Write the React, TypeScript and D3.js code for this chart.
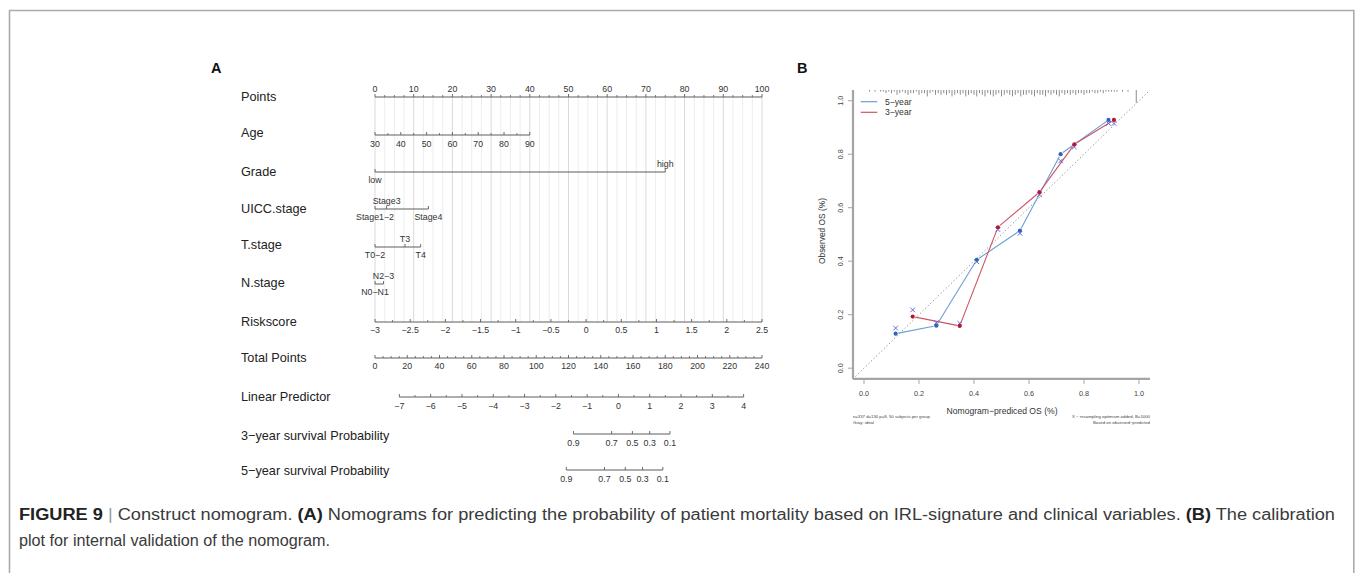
import React from 'react';
import * as d3 from 'd3';

// ---------- Panel A: nomogram ----------
const pointTicks = [0, 10, 20, 30, 40, 50, 60, 70, 80, 90, 100];
const ageTicks = [30, 40, 50, 60, 70, 80, 90];
const ageDomain = [30, 90];
const agePointsMax = 40;
const gradeLevels = [
  { label: 'low', points: 0, side: 1 },
  { label: 'high', points: 75, side: -1 },
];
const uiccLevels = [
  { label: 'Stage1\u22122', points: 0, side: 1 },
  { label: 'Stage3', points: 3, side: -1 },
  { label: 'Stage4', points: 13.8, side: 1 },
];
const tLevels = [
  { label: 'T0\u22122', points: 0, side: 1 },
  { label: 'T3', points: 7.75, side: -1 },
  { label: 'T4', points: 11.8, side: 1 },
];
const nLevels = [
  { label: 'N0\u2212N1', points: 0, side: 1 },
  { label: 'N2\u22123', points: 2.2, side: -1 },
];
const riskTicks = [-3, -2.5, -2, -1.5, -1, -0.5, 0, 0.5, 1, 1.5, 2, 2.5];
const riskDomain = [-3, 2.5];
const totalTicks = [0, 20, 40, 60, 80, 100, 120, 140, 160, 180, 200, 220, 240];
const lpTicks = [-7, -6, -5, -4, -3, -2, -1, 0, 1, 2, 3, 4];
// total points reached at the ends of the linear predictor axis
const lpTotalAtEnds = [15.1, 228.6];
const survTicks = [0.9, 0.7, 0.5, 0.3, 0.1];
// log(-log S(t)) = LP + offset
const surv3Offset = -0.813;
const surv5Offset = -0.585;

const rowLabels = [
  'Points', 'Age', 'Grade', 'UICC.stage', 'T.stage', 'N.stage', 'Riskscore',
  'Total Points', 'Linear Predictor', '3\u2212year survival Probability', '5\u2212year survival Probability',
];

// ---------- Panel B: calibration ----------
const pred5 = [0.115, 0.263, 0.41, 0.567, 0.715, 0.889];
const obs5 = [0.129, 0.159, 0.405, 0.514, 0.8, 0.928];
const corr5 = [0.15, 0.17, 0.398, 0.504, 0.775, 0.915];
const pred3 = [0.177, 0.348, 0.487, 0.638, 0.765, 0.909];
const obs3 = [0.193, 0.158, 0.527, 0.658, 0.837, 0.928];
const corr3 = [0.218, 0.168, 0.518, 0.648, 0.827, 0.915];
const calTicks = [0, 0.2, 0.4, 0.6, 0.8, 1.0];
// distribution of predicted values, counts per 0.01 bin starting at 0
const rugCounts = [
  0, 0, 1, 0, 1, 0, 1, 1, 2, 1,
  2, 1, 3, 2, 1, 2, 3, 2, 2, 1,
  3, 2, 2, 4, 2, 1, 3, 2, 3, 2,
  3, 2, 4, 3, 2, 3, 2, 4, 3, 2,
  3, 4, 2, 3, 4, 2, 3, 4, 3, 2,
  4, 3, 2, 3, 4, 3, 2, 4, 3, 3,
  2, 3, 4, 2, 3, 3, 4, 2, 3, 2,
  3, 4, 2, 3, 2, 3, 2, 3, 2, 2,
  3, 2, 2, 1, 2, 2, 1, 2, 1, 1,
  1, 1, 1, 0, 1, 0, 1, 0, 0, 8,
];

const FONT = "'Liberation Sans', Arial, Helvetica, sans-serif";
const AXC = '#5c5c5c';
const TXT = '#333';

const fmt = (v: number) => String(v).replace('-', '\u2212');

export default function App() {
  // nomogram scales
  const xPts = d3.scaleLinear().domain([0, 100]).range([375, 762]);
  const xTot = d3.scaleLinear().domain([0, 240]).range([375, 762]);
  const agePts = d3.scaleLinear().domain(ageDomain).range([0, agePointsMax]);
  const riskPts = d3.scaleLinear().domain(riskDomain).range([0, 100]);
  const lpTot = d3.scaleLinear().domain([-7, 4]).range(lpTotalAtEnds);
  const survX = (p: number, offset: number) => xTot(lpTot(Math.log(-Math.log(p)) - offset));

  const rowY = [97, 135, 172, 209, 247, 284, 322, 358, 397, 434, 470];
  const labelY = [97, 133, 172, 209, 245, 283, 322, 358, 397, 436, 471];

  const axis = (
    key: string, y: number, major: { x: number; label: string }[], minor: number[], side: number, off = 8.3,
  ) => {
    const xs = major.map((m) => m.x).concat(minor);
    return (
      <g key={key}>
        <line x1={d3.min(xs)} x2={d3.max(xs)} y1={y} y2={y} stroke={AXC} strokeWidth={1} />
        {minor.map((x, i) => (
          <line key={'m' + i} x1={x} x2={x} y1={y} y2={y - 2} stroke={AXC} strokeWidth={0.8} />
        ))}
        {major.map((m, i) => (
          <g key={'M' + i}>
            <line x1={m.x} x2={m.x} y1={y} y2={y - 3} stroke={AXC} strokeWidth={0.9} />
            <text x={m.x} y={y + side * off} fontSize={8.8} textAnchor="middle" dominantBaseline="central" fill={TXT}>
              {m.label}
            </text>
          </g>
        ))}
      </g>
    );
  };

  const catAxis = (key: string, y: number, levels: { label: string; points: number; side: number }[]) => {
    const xs = levels.map((l) => xPts(l.points));
    return (
      <g key={key}>
        <line x1={d3.min(xs)} x2={d3.max(xs)} y1={y} y2={y} stroke={AXC} strokeWidth={1} />
        {levels.map((l, i) => (
          <g key={i}>
            <line x1={xPts(l.points)} x2={xPts(l.points)} y1={y} y2={y - 3} stroke={AXC} strokeWidth={0.9} />
            <text x={xPts(l.points)} y={y + l.side * 8.3} fontSize={8.8} textAnchor="middle" dominantBaseline="central" fill={TXT}>
              {l.label}
            </text>
          </g>
        ))}
      </g>
    );
  };

  const gridVals = d3.range(0, 100.001, 2.5);

  // calibration scales
  const xCal = d3.scaleLinear().domain([-0.04, 1.04]).range([853, 1150]);
  const yCal = d3.scaleLinear().domain([-0.04, 1.04]).range([378.9, 90]);

  // observed series drawn R "type = b" style: segments stop short of each point
  const gappedSegments = (px: number[], py: number[], gap: number) => {
    const segs: string[] = [];
    for (let i = 0; i < px.length - 1; i++) {
      const x0 = xCal(px[i]), y0 = yCal(py[i]);
      const x1 = xCal(px[i + 1]), y1 = yCal(py[i + 1]);
      const L = Math.hypot(x1 - x0, y1 - y0);
      if (L <= 2 * gap) continue;
      const ux = (x1 - x0) / L, uy = (y1 - y0) / L;
      segs.push(`M${x0 + ux * gap},${y0 + uy * gap}L${x1 - ux * gap},${y1 - uy * gap}`);
    }
    return segs.join('');
  };

  const BLUE_L = '#6a9fd2';
  const BLUE_P = '#2c67b3';
  const RED_L = '#cf5466';
  const RED_P = '#b4182e';
  const XCOL = '#5a58e0';

  const xMark = (cx: number, cy: number, k: string) => (
    <path key={k} d={`M${cx - 2.3},${cy - 2.3}L${cx + 2.3},${cy + 2.3}M${cx - 2.3},${cy + 2.3}L${cx + 2.3},${cy - 2.3}`} stroke={XCOL} strokeWidth={0.9} />
  );

  return (
    <svg width={1355} height={573} style={{ position: 'absolute', left: 0, top: 0, background: '#fff' }} fontFamily={FONT}>
      <rect x={0} y={0} width={1355} height={573} fill="#fff" />
      {/* figure frame */}
      <path d="M9.5,600V10.5H1353.8V600" fill="none" stroke="#ababab" strokeWidth={1.6} />

      {/* ===== Panel A ===== */}
      <text x={211} y={73} fontSize={14.5} fontWeight="bold" fill="#111">A</text>

      {gridVals.map((p, i) => (
        <line key={'g' + i} x1={xPts(p)} x2={xPts(p)} y1={rowY[0]} y2={rowY[6]}
          stroke={p % 10 === 0 ? '#dadada' : '#ededed'} strokeWidth={1} />
      ))}

      {rowLabels.map((l, i) => (
        <text key={'rl' + i} x={241} y={labelY[i]} fontSize={12.7} dominantBaseline="central" fill="#222">{l}</text>
      ))}

      {axis('pts', rowY[0], pointTicks.map((p) => ({ x: xPts(p), label: String(p) })),
        d3.range(0, 100, 2.5).filter((p) => p % 10 !== 0).map((p) => xPts(p)), -1, 8)}

      {axis('age', rowY[1], ageTicks.map((a) => ({ x: xPts(agePts(a)), label: String(a) })),
        ageTicks.slice(0, -1).map((a) => xPts(agePts(a + 5))), 1, 8.5)}

      {catAxis('grade', rowY[2], gradeLevels)}
      {catAxis('uicc', rowY[3], uiccLevels)}
      {catAxis('t', rowY[4], tLevels)}
      {catAxis('n', rowY[5], nLevels)}

      {axis('risk', rowY[6], riskTicks.map((r) => ({ x: xPts(riskPts(r)), label: fmt(r) })),
        riskTicks.slice(0, -1).map((r) => xPts(riskPts(r + 0.25))), 1, 7.8)}

      {axis('tot', rowY[7], totalTicks.map((t) => ({ x: xTot(t), label: String(t) })),
        d3.range(0, 240, 5).filter((t) => t % 20 !== 0).map((t) => xTot(t)), 1, 8.2)}

      {axis('lp', rowY[8], lpTicks.map((v) => ({ x: xTot(lpTot(v)), label: fmt(v) })),
        lpTicks.slice(0, -1).map((v) => xTot(lpTot(v + 0.5))), 1, 8.5)}

      {axis('s3', rowY[9], survTicks.map((p) => ({ x: survX(p, surv3Offset), label: String(p) })), [], 1, 8.5)}
      {axis('s5', rowY[10], survTicks.map((p) => ({ x: survX(p, surv5Offset), label: String(p) })), [], 1, 8.5)}

      {/* ===== Panel B ===== */}
      <text x={797} y={73} fontSize={14.5} fontWeight="bold" fill="#111">B</text>

      {/* distribution of predictions */}
      {rugCounts.map((c, i) =>
        c > 0 ? (
          <line key={'r' + i} x1={xCal(i * 0.01)} x2={xCal(i * 0.01)} y1={90} y2={90 + c * 1.6}
            stroke="#6e6e6e" strokeWidth={0.8} />
        ) : null,
      )}

      {/* ideal line */}
      <line x1={xCal(-0.04)} y1={yCal(-0.04)} x2={xCal(1.04)} y2={yCal(1.04)} stroke="#8a8a8a" strokeWidth={1} strokeDasharray="1.2,2.4" />

      {/* axes */}
      <line x1={853} x2={853} y1={yCal(-0.04)} y2={yCal(1.04)} stroke="#a5a5a5" strokeWidth={2.2} />
      <line x1={853} x2={1150} y1={yCal(-0.04)} y2={yCal(-0.04)} stroke="#a5a5a5" strokeWidth={2.2} />
      {calTicks.map((t, i) => (
        <g key={'ct' + i}>
          <line x1={848} x2={853} y1={yCal(t)} y2={yCal(t)} stroke="#a5a5a5" strokeWidth={1} />
          <text transform={`translate(840,${yCal(t)}) rotate(-90)`} fontSize={7.3} textAnchor="middle" dominantBaseline="central" fill="#444">
            {t.toFixed(1)}
          </text>
          <line x1={xCal(t)} x2={xCal(t)} y1={yCal(-0.04)} y2={yCal(-0.04) + 5} stroke="#a5a5a5" strokeWidth={1} />
          <text x={xCal(t)} y={393.3} fontSize={7.3} textAnchor="middle" dominantBaseline="central" fill="#444">
            {t.toFixed(1)}
          </text>
        </g>
      ))}
      <text transform={`translate(821.5,231) rotate(-90)`} fontSize={8.4} textAnchor="middle" dominantBaseline="central" fill="#333">
        Observed OS (%)
      </text>
      <text x={1002} y={411} fontSize={9} textAnchor="middle" dominantBaseline="central" fill="#333" textLength={111} lengthAdjust="spacingAndGlyphs">
        Nomogram{'\u2212'}prediced OS (%)
      </text>
      <g fontSize={4.2} fill="#444">
        <text x={853} y={416.6} dominantBaseline="central" textLength={77} lengthAdjust="spacingAndGlyphs">n=337 d=130 p=8, 50 subjects per group</text>
        <text x={853} y={422.4} dominantBaseline="central" textLength={21} lengthAdjust="spacingAndGlyphs">Gray: ideal</text>
        <text x={1150} y={416.6} dominantBaseline="central" textAnchor="end" textLength={78} lengthAdjust="spacingAndGlyphs">X {'\u2212'} resampling optimism added, B=1000</text>
        <text x={1150} y={422.4} dominantBaseline="central" textAnchor="end" textLength={57} lengthAdjust="spacingAndGlyphs">Based on observed{'\u2212'}predicted</text>
      </g>

      {/* 5-year */}
      <path d={gappedSegments(pred5, obs5, 2.8)} fill="none" stroke={BLUE_L} strokeWidth={1.1} />
      {/* 3-year */}
      <path d={gappedSegments(pred3, obs3, 2.8)} fill="none" stroke={RED_L} strokeWidth={1.1} />
      {pred5.map((p, i) => xMark(xCal(p), yCal(corr5[i]), 'x5' + i))}
      {pred3.map((p, i) => xMark(xCal(p), yCal(corr3[i]), 'x3' + i))}
      {pred5.map((p, i) => (
        <circle key={'p5' + i} cx={xCal(p)} cy={yCal(obs5[i])} r={2.1} fill={BLUE_P} />
      ))}
      {pred3.map((p, i) => (
        <circle key={'p3' + i} cx={xCal(p)} cy={yCal(obs3[i])} r={2.1} fill={RED_P} />
      ))}

      {/* legend */}
      <line x1={860.7} x2={877.3} y1={101.7} y2={101.7} stroke={BLUE_L} strokeWidth={1.2} />
      <text x={885} y={101.7} fontSize={8.6} dominantBaseline="central" fill="#333">5{'\u2212'}year</text>
      <line x1={860.7} x2={877.3} y1={112.3} y2={112.3} stroke={RED_L} strokeWidth={1.2} />
      <text x={885} y={112.3} fontSize={8.6} dominantBaseline="central" fill="#333">3{'\u2212'}year</text>

      {/* caption */}
      <text x={19} y={520} fontSize={16} fill="#3a3a3a" textLength={1316} lengthAdjust="spacingAndGlyphs">
        <tspan fontWeight="bold" fill="#222">FIGURE 9</tspan>
        <tspan fill="#9a9a9a"> | </tspan>
        <tspan>Construct nomogram. </tspan>
        <tspan fontWeight="bold" fill="#222">(A)</tspan>
        <tspan> Nomograms for predicting the probability of patient mortality based on IRL-signature and clinical variables. </tspan>
        <tspan fontWeight="bold" fill="#222">(B)</tspan>
        <tspan> The calibration</tspan>
      </text>
      <text x={19} y={546} fontSize={16} fill="#3a3a3a" textLength={311} lengthAdjust="spacingAndGlyphs">
        plot for internal validation of the nomogram.
      </text>
    </svg>
  );
}
